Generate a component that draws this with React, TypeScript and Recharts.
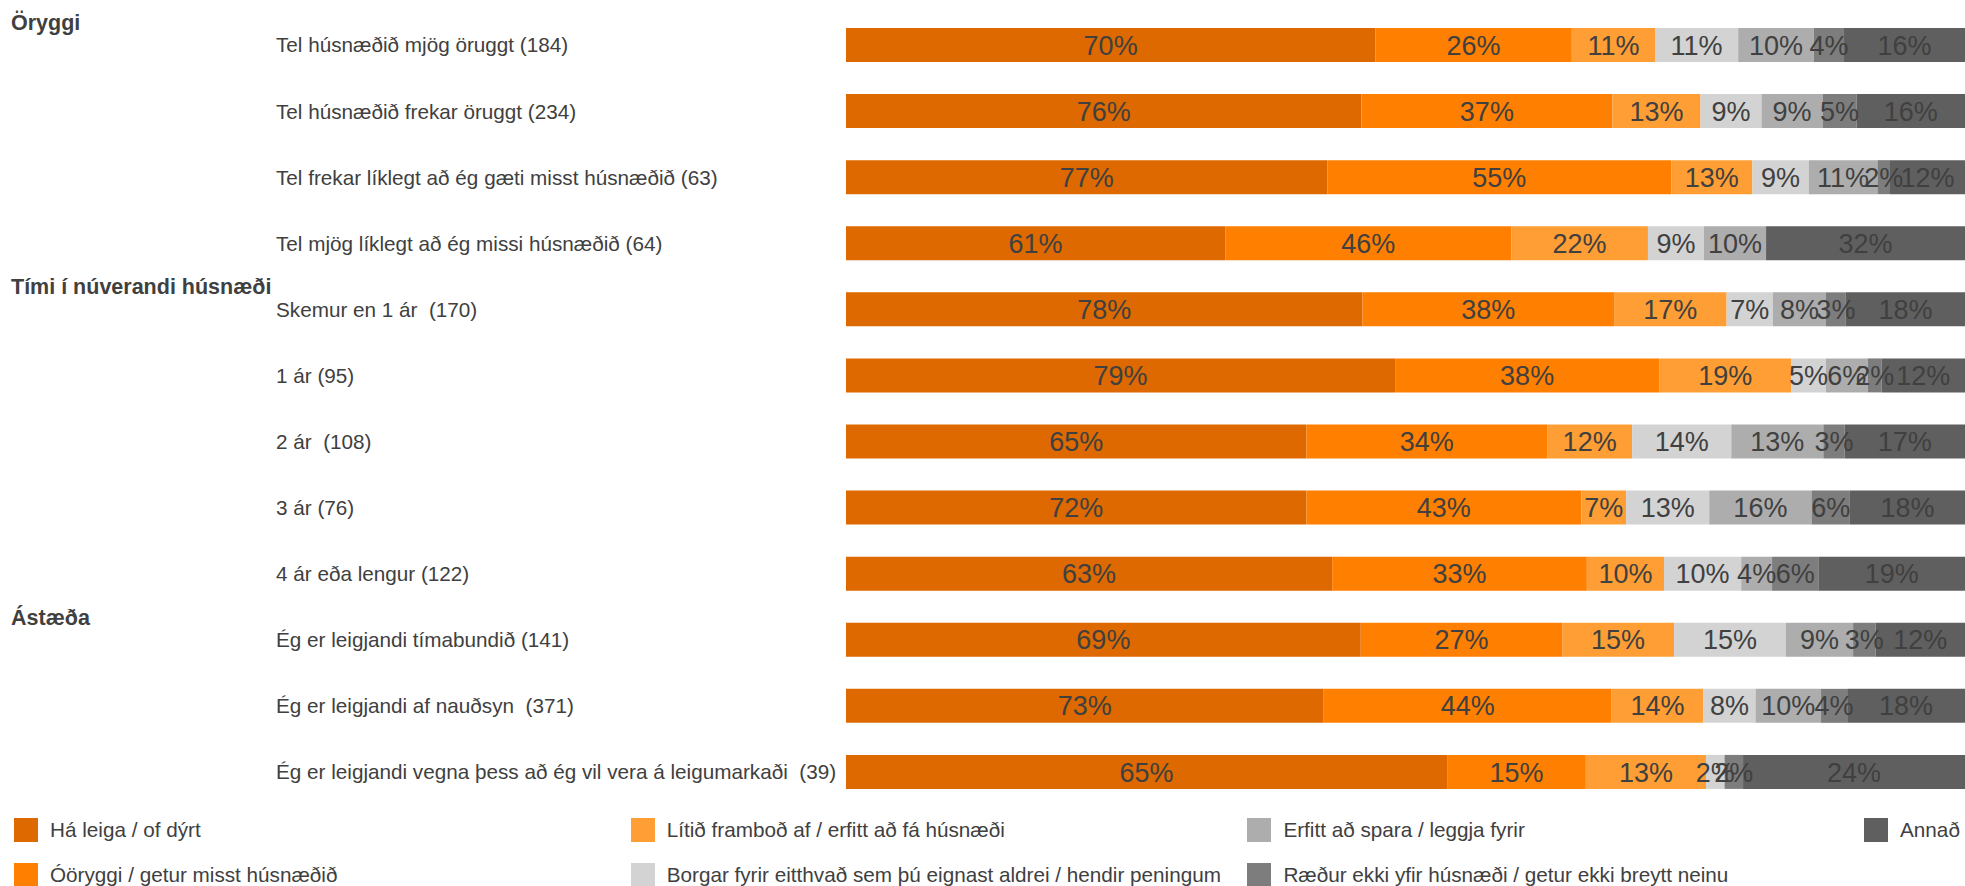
import { BarChart, Bar, XAxis, YAxis, Legend, LabelList } from "recharts";

const categories = [
  "Tel húsnæðið mjög öruggt (184)",
  "Tel húsnæðið frekar öruggt (234)",
  "Tel frekar líklegt að ég gæti misst húsnæðið (63)",
  "Tel mjög líklegt að ég missi húsnæðið (64)",
  "Skemur en 1 ár  (170)",
  "1 ár (95)",
  "2 ár  (108)",
  "3 ár (76)",
  "4 ár eða lengur (122)",
  "Ég er leigjandi tímabundið (141)",
  "Ég er leigjandi af nauðsyn  (371)",
  "Ég er leigjandi vegna þess að ég vil vera á leigumarkaði  (39)",
];

// group header shown above the first row of each group
const groupHeaders = ["Öryggi", "", "", "", "Tími í núverandi húsnæði", "", "", "", "", "Ástæða", "", ""];

const haLeiga = [70, 76, 77, 61, 78, 79, 65, 72, 63, 69, 73, 65];
const ooryggi = [26, 37, 55, 46, 38, 38, 34, 43, 33, 27, 44, 15];
const litidFrambod = [11, 13, 13, 22, 17, 19, 12, 7, 10, 15, 14, 13];
const borgar = [11, 9, 9, 9, 7, 5, 14, 13, 10, 15, 8, 2];
const spara = [10, 9, 11, 10, 8, 6, 13, 16, 4, 9, 10, 0];
const raedur = [4, 5, 2, 0, 3, 2, 3, 6, 6, 3, 4, 2];
const annad = [16, 16, 12, 32, 18, 12, 17, 18, 19, 12, 18, 24];

const series = [
  { key: "haLeiga", name: "Há leiga / of dýrt", color: "#dd6900", values: haLeiga },
  { key: "ooryggi", name: "Óöryggi / getur misst húsnæðið", color: "#ff7f00", values: ooryggi },
  { key: "litidFrambod", name: "Lítið framboð af / erfitt að fá húsnæði", color: "#fe9e35", values: litidFrambod },
  { key: "borgar", name: "Borgar fyrir eitthvað sem þú eignast aldrei / hendir peningum", color: "#d3d3d3", values: borgar },
  { key: "spara", name: "Erfitt að spara / leggja fyrir", color: "#adadad", values: spara },
  { key: "raedur", name: "Ræður ekki yfir húsnæði / getur ekki breytt neinu", color: "#7d7d7d", values: raedur },
  { key: "annad", name: "Annað", color: "#5f5f5f", values: annad },
];

const data = categories.map((name, i) => {
  const row: Record<string, string | number> = { name };
  series.forEach((s) => {
    row[s.key] = s.values[i];
  });
  return row;
});

const FONT = "'Liberation Sans', Arial, sans-serif";
const TEXT = "#404040";

const CategoryTick = (props: any) => {
  const { y, payload, index } = props;
  const header = groupHeaders[index];
  return (
    <g>
      {header && (
        <text x={11} y={y - 15} fontSize={21.5} fontWeight="bold" fill={TEXT} fontFamily={FONT}>
          {header}
        </text>
      )}
      <text
        x={276}
        y={y}
        dy="0.36em"
        fontSize={20.7}
        fill={TEXT}
        fontFamily={FONT}
        textAnchor="start"
        style={{ whiteSpace: "pre" }}
      >
        {payload.value}
      </text>
    </g>
  );
};

const LegendGrid = (props: any) => {
  const items = [...(props.payload || [])].sort(
    (a: any, b: any) => series.findIndex((s) => s.name === a.value) - series.findIndex((s) => s.name === b.value)
  );
  return (
    <div
      style={{
        display: "grid",
        gridTemplateColumns: "repeat(4, 616.7px)",
        gridTemplateRows: "45px 45px",
        gridAutoFlow: "column",
        paddingLeft: 14,
        paddingTop: 2,
        fontFamily: FONT,
        fontSize: 20.7,
        color: TEXT,
      }}
    >
      {items.map((it: any, i: number) => (
        <div key={i} style={{ display: "flex", alignItems: "center", whiteSpace: "nowrap" }}>
          <span style={{ width: 24, height: 24, background: it.color, marginRight: 12, display: "inline-block", flex: "none" }} />
          <span>{it.value}</span>
        </div>
      ))}
    </div>
  );
};

export default function App() {
  return (
    <div style={{ position: "absolute", left: 0, top: 0, background: "#fff" }}>
      <BarChart
        width={1965}
        height={886}
        data={data}
        layout="vertical"
        stackOffset="expand"
        margin={{ top: 12, right: 0, bottom: 0, left: 0 }}
        style={{ fontFamily: FONT }}
      >
        <XAxis type="number" domain={[0, 1]} hide />
        <YAxis
          type="category"
          dataKey="name"
          width={846}
          axisLine={false}
          tickLine={false}
          interval={0}
          tick={<CategoryTick />}
        />
        <Legend verticalAlign="bottom" height={81} content={<LegendGrid />} />
        {series.map((s) => (
          <Bar key={s.key} dataKey={s.key} name={s.name} stackId="a" fill={s.color} barSize={34} isAnimationActive={false}>
            <LabelList
              dataKey={s.key}
              position="center"
              formatter={(v: any) => (v ? `${v}%` : "")}
              fill={TEXT}
              fontSize={27}
              fontFamily={FONT}
            />
          </Bar>
        ))}
      </BarChart>
    </div>
  );
}
